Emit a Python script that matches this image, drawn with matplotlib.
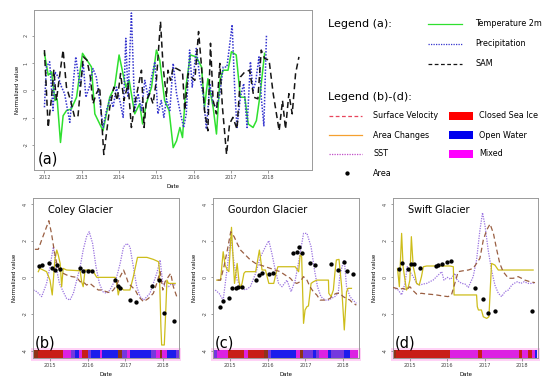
import numpy as np
import matplotlib.pyplot as plt
from matplotlib.patches import Rectangle

plt.rcParams['font.family'] = 'DejaVu Sans'
plt.rcParams['axes.unicode_minus'] = False

# ---------------- panel (a): climate series (year, normalized value) ----------------
temp2m = [(2012.00, 1.36), (2012.10, 0.56), (2012.19, 0.68), (2012.28, -0.37), (2012.34, -0.31),
          (2012.43, -1.91), (2012.50, -0.93), (2012.59, -0.74), (2012.72, -0.68), (2012.86, -0.25),
          (2013.02, 1.36), (2013.14, 1.11), (2013.26, 0.86), (2013.35, -0.86), (2013.57, -1.48),
          (2013.75, -0.25), (2013.88, 0.12), (2014.00, 1.30), (2014.18, 0.12), (2014.27, 0.37),
          (2014.42, -0.86), (2014.55, -0.49), (2014.63, -1.23), (2014.73, -0.49), (2014.87, 0.12),
          (2015.00, 1.48), (2015.09, 1.11), (2015.22, -0.37), (2015.34, -0.74), (2015.45, -2.10),
          (2015.54, -1.85), (2015.63, -1.36), (2015.70, -1.73), (2015.79, 0.12), (2015.91, 1.30),
          (2016.07, 1.23), (2016.21, 0.86), (2016.29, -0.62), (2016.38, 0.43), (2016.52, -0.62),
          (2016.61, -1.60), (2016.70, 0.37), (2016.79, 0.74), (2016.92, 0.74), (2017.01, 1.42),
          (2017.14, 1.30), (2017.25, -0.25), (2017.37, -0.25), (2017.46, -1.23), (2017.59, -1.36),
          (2017.68, -1.11), (2017.77, -0.25), (2017.90, 1.36)]

precip = [(2012.00, -0.62), (2012.05, 0.86), (2012.14, 1.05), (2012.23, -0.74), (2012.28, 0.68),
          (2012.37, 0.49), (2012.46, 0.12), (2012.54, -0.12), (2012.68, -1.17), (2012.77, 0.25),
          (2012.84, 1.23), (2012.95, 0.12), (2013.04, 0.99), (2013.11, -0.25), (2013.20, 0.12),
          (2013.30, 0.80), (2013.39, 0.49), (2013.48, -0.37), (2013.57, -1.36), (2013.66, -0.74),
          (2013.77, -0.25), (2013.84, -0.62), (2013.93, 0.12), (2014.02, -0.37), (2014.11, -0.99),
          (2014.18, 1.91), (2014.24, -0.25), (2014.33, 2.84), (2014.42, -0.74), (2014.51, -0.12),
          (2014.60, -0.74), (2014.69, 0.37), (2014.78, -0.25), (2014.87, 0.49), (2014.96, 1.05),
          (2015.04, -0.86), (2015.13, -0.37), (2015.20, -0.99), (2015.27, -0.31), (2015.36, -0.74),
          (2015.45, 0.99), (2015.54, -0.12), (2015.63, -0.74), (2015.73, -1.36), (2015.80, -0.86),
          (2015.89, 1.48), (2015.96, 0.12), (2016.07, 1.54), (2016.16, 0.49), (2016.25, -0.12),
          (2016.34, -1.42), (2016.43, 0.25), (2016.52, -0.49), (2016.61, -0.62), (2016.70, -0.12),
          (2016.79, 0.86), (2016.89, 0.86), (2017.03, 2.41), (2017.10, 0.00), (2017.16, -1.36),
          (2017.25, -0.25), (2017.34, 0.25), (2017.43, -1.36), (2017.52, 1.05), (2017.59, 0.00),
          (2017.66, 0.31), (2017.75, 1.23), (2017.81, -0.25), (2017.88, -1.30), (2017.95, 2.04)]

sam = [(2012.00, 1.48), (2012.10, -1.36), (2012.19, -0.25), (2012.25, 0.74), (2012.32, -0.37),
       (2012.39, 0.37), (2012.50, 1.48), (2012.59, 0.12), (2012.70, -0.37), (2012.81, -0.99),
       (2012.90, -0.93), (2013.04, 1.23), (2013.14, 1.11), (2013.23, 0.49), (2013.30, -0.49),
       (2013.39, -0.12), (2013.48, 0.12), (2013.59, -2.35), (2013.66, -1.60), (2013.75, -0.62),
       (2013.86, 0.12), (2013.95, -0.37), (2014.04, 0.62), (2014.13, -0.37), (2014.24, 0.25),
       (2014.33, -1.36), (2014.42, -0.49), (2014.51, 0.12), (2014.60, 0.74), (2014.67, -1.36),
       (2014.73, -0.37), (2014.82, -0.12), (2014.91, -0.49), (2015.00, 0.37), (2015.11, 2.53),
       (2015.18, 0.86), (2015.27, -0.25), (2015.31, 0.74), (2015.38, 0.37), (2015.45, 0.86),
       (2015.54, 0.80), (2015.70, 0.68), (2015.76, -0.74), (2015.85, 0.62), (2015.94, 0.49),
       (2016.03, 0.37), (2016.13, 2.16), (2016.21, 0.86), (2016.29, -0.74), (2016.38, -1.48),
       (2016.45, 1.73), (2016.52, -0.37), (2016.61, -0.86), (2016.70, 0.99), (2016.77, -0.62),
       (2016.88, -2.35), (2016.96, -1.23), (2017.05, -0.99), (2017.16, -1.42), (2017.25, 0.49),
       (2017.37, 0.68), (2017.50, 0.74), (2017.61, -0.25), (2017.72, -0.31), (2017.81, 1.48),
       (2017.90, 1.17), (2018.02, 1.11), (2018.13, -0.12), (2018.29, -1.48), (2018.38, -0.37),
       (2018.46, -1.42), (2018.55, -0.12), (2018.64, -0.86), (2018.73, 0.62), (2018.82, 1.23)]

# ---------------- panels (b)-(d): glaciers ----------------
coley_vel = [(2014.60, 1.53), (2014.69, 1.53), (2014.78, 2.04), (2014.91, 2.76), (2014.97, 3.09),
             (2015.04, 2.40), (2015.11, 1.49), (2015.18, 0.76), (2015.27, 0.31), (2015.35, 0.22),
             (2015.44, 0.13), (2015.58, 0.04), (2015.71, 0.00), (2015.80, -0.24), (2015.88, -0.24),
             (2015.97, -0.42), (2016.06, -0.33), (2016.19, -0.55), (2016.28, -0.69), (2016.37, -0.69),
             (2016.49, -0.78), (2016.59, -0.84), (2016.68, -0.69), (2016.77, -0.42), (2016.86, 0.04),
             (2016.95, 0.40), (2017.02, 0.04), (2017.08, -0.33), (2017.17, -0.51), (2017.26, -0.69),
             (2017.35, -1.05), (2017.48, -1.33), (2017.61, -1.15), (2017.74, -0.87), (2017.83, -0.33),
             (2017.92, 0.31), (2017.99, -0.69), (2018.05, -0.24), (2018.14, 0.04), (2018.20, 0.22),
             (2018.27, -0.51), (2018.36, -1.05)]
coley_sst = [(2014.56, -0.69), (2014.65, -0.78), (2014.78, -1.05), (2014.91, -0.33), (2015.00, 0.58),
             (2015.09, 1.67), (2015.16, 0.58), (2015.25, -0.33), (2015.35, -0.78), (2015.44, -1.15),
             (2015.53, -1.24), (2015.62, -0.87), (2015.71, -0.15), (2015.80, 0.58), (2015.88, 1.49),
             (2015.97, 2.22), (2016.04, 2.49), (2016.13, 1.85), (2016.22, 0.58), (2016.31, -0.33),
             (2016.40, -0.78), (2016.50, -0.87), (2016.59, -0.69), (2016.68, -0.33), (2016.77, 0.04),
             (2016.86, 0.76), (2016.95, 1.67), (2017.04, 1.85), (2017.12, 1.67), (2017.21, 0.58),
             (2017.30, -0.51), (2017.39, -1.05), (2017.48, -1.24), (2017.57, -1.05), (2017.65, -0.87),
             (2017.74, -0.33), (2017.83, 0.22), (2017.92, 0.95), (2017.99, -0.33), (2018.05, -0.51),
             (2018.14, -0.51), (2018.23, -0.33), (2018.32, -0.42)]
coley_area_chg = [(2014.69, 0.31), (2014.73, 0.49), (2014.82, 0.40), (2014.91, 0.31), (2015.00, -0.15),
                  (2015.06, -0.96), (2015.13, 0.95), (2015.18, 1.49), (2015.22, 1.22), (2015.27, 0.76),
                  (2015.31, -0.51), (2015.35, 0.49), (2015.44, 0.40), (2015.80, 0.36), (2015.84, -0.24),
                  (2015.88, -0.51), (2015.93, 0.40), (2016.06, 0.40), (2016.15, 0.31), (2016.24, 0.00),
                  (2016.73, 0.00), (2016.77, -0.33), (2016.81, -0.96), (2016.86, -0.51), (2016.95, -0.69),
                  (2017.12, -0.69), (2017.21, 0.04), (2017.32, 1.09), (2017.57, 1.09), (2017.74, 0.98),
                  (2017.88, 0.85), (2017.90, 0.40), (2017.94, -2.69), (2017.96, -3.69), (2018.03, -3.69),
                  (2018.07, -1.78), (2018.10, -0.15), (2018.14, -0.33), (2018.32, -0.33)]
coley_area = [(2014.71, 0.62), (2014.80, 0.67), (2014.97, 0.76), (2015.06, 0.49), (2015.12, 0.40),
              (2015.18, 0.67), (2015.27, 0.45), (2015.80, 0.53), (2015.87, 0.35), (2016.02, 0.35),
              (2016.11, 0.35), (2016.73, -0.15), (2016.79, -0.45), (2016.86, -0.56), (2017.12, -1.24),
              (2017.28, -1.33), (2017.70, -0.45), (2017.88, -0.15), (2018.03, -1.96), (2018.29, -2.38)]
coley_ice_edges = [2014.56, 2014.69, 2015.35, 2015.57, 2015.66, 2015.78, 2015.84, 2016.01, 2016.10,
                   2016.32, 2016.39, 2016.81, 2016.90, 2017.03, 2017.12, 2017.69, 2017.82, 2017.91,
                   2017.98, 2018.09, 2018.35, 2018.42]
coley_ice = ['closed-dark', 'closed', 'mixed', 'open-mixed', 'open', 'mixed', 'closed', 'open-mixed',
             'open', 'mixed', 'open', 'closed-dark', 'open-mixed', 'mixed', 'open', 'open-mixed',
             'mixed', 'closed-dark', 'mixed', 'open', 'open-mixed']

gourdon_vel = [(2014.67, -0.15), (2014.75, -0.15), (2014.84, 0.58), (2014.93, 1.49), (2015.02, 2.49),
               (2015.11, 2.22), (2015.19, 1.85), (2015.28, 1.49), (2015.41, 1.22), (2015.54, 0.95),
               (2015.68, 0.76), (2015.81, 0.67), (2015.94, 0.58), (2016.07, 0.49), (2016.20, 0.40),
               (2016.33, 0.31), (2016.46, 0.13), (2016.60, -0.05), (2016.68, -0.24), (2016.77, -0.33),
               (2016.86, -0.24), (2016.95, 0.04), (2017.04, -0.15), (2017.12, -0.51), (2017.21, -0.78),
               (2017.30, -0.96), (2017.39, -1.24), (2017.47, -1.24), (2017.56, -1.24), (2017.65, -1.15),
               (2017.74, -0.96), (2017.82, -0.87), (2017.91, -0.87), (2018.00, -1.05), (2018.09, -1.15),
               (2018.18, -1.24), (2018.26, -1.42), (2018.35, -1.51)]
gourdon_sst = [(2014.61, -0.69), (2014.71, -0.87), (2014.82, -1.24), (2014.93, 0.58), (2015.02, 2.22),
               (2015.11, 0.76), (2015.19, -0.15), (2015.28, -0.51), (2015.41, -0.69), (2015.54, -0.51),
               (2015.68, 0.22), (2015.81, 1.13), (2015.94, 1.67), (2016.03, 2.00), (2016.11, 1.31),
               (2016.20, 0.40), (2016.29, -0.33), (2016.38, -0.51), (2016.51, -0.15), (2016.62, -0.78),
               (2016.73, -0.15), (2016.83, 0.95), (2016.95, 2.40), (2017.04, 2.40), (2017.15, 1.67),
               (2017.24, 0.40), (2017.32, -0.51), (2017.41, -1.05), (2017.52, -1.24), (2017.61, -1.24),
               (2017.69, -1.15), (2017.78, -1.05), (2017.87, -0.87), (2017.91, 0.04), (2017.97, 0.58),
               (2018.03, 0.95), (2018.09, -0.51), (2018.18, -1.05), (2018.26, -1.24), (2018.35, -1.42)]
gourdon_area_chg = [(2014.65, -0.15), (2014.75, -0.15), (2014.82, 1.40), (2014.87, 0.67), (2014.93, 0.40),
                    (2014.97, 0.31), (2015.04, 2.73), (2015.08, 1.13), (2015.12, -0.33), (2015.15, 0.13),
                    (2015.19, 0.76), (2015.24, -0.24), (2015.28, -0.60), (2015.32, -0.33), (2015.37, 0.22),
                    (2015.41, 0.31), (2015.68, 0.31), (2015.78, 1.49), (2015.85, 0.40), (2015.94, 0.40),
                    (2016.03, -0.33), (2016.16, -0.33), (2016.22, 0.22), (2016.27, 0.58), (2016.73, 0.58),
                    (2016.82, 0.31), (2016.86, 1.22), (2016.90, 1.13), (2016.95, -2.51), (2016.99, -1.78),
                    (2017.04, -1.60), (2017.08, -1.56), (2017.15, -0.33), (2017.21, -0.24), (2017.30, -0.15),
                    (2017.61, -0.15), (2017.62, -0.87), (2017.68, -1.05), (2017.74, -0.69), (2017.78, 0.22),
                    (2017.82, 0.95), (2017.89, 0.98), (2017.96, -0.51), (2018.03, -2.87), (2018.09, -0.78),
                    (2018.13, -0.60), (2018.22, -0.60)]
gourdon_area = [(2014.73, -1.60), (2014.82, -1.29), (2014.97, -1.11), (2015.06, -0.60), (2015.15, -0.60),
                (2015.22, -0.51), (2015.31, -0.55), (2015.70, -0.15), (2015.78, 0.13), (2015.85, 0.25),
                (2016.04, 0.18), (2016.13, 0.25), (2016.67, 1.35), (2016.77, 1.40), (2016.84, 1.67),
                (2016.90, 1.31), (2017.12, 0.80), (2017.25, 0.65), (2017.69, 0.71), (2017.87, 0.38),
                (2018.03, 0.82), (2018.11, 0.33), (2018.26, 0.16)]
gourdon_ice_edges = [2014.55, 2014.66, 2014.94, 2015.36, 2015.49, 2015.91, 2016.02, 2016.08, 2016.75,
                     2016.86, 2016.93, 2017.19, 2017.28, 2017.36, 2017.60, 2017.69, 2018.01, 2018.19,
                     2018.40]
gourdon_ice = ['open-mixed', 'mixed', 'closed', 'mixed', 'closed', 'closed-dark', 'open-mixed', 'open',
               'mixed', 'closed-dark', 'open-mixed', 'open', 'open-mixed', 'mixed', 'open', 'open-mixed',
               'open', 'mixed']

swift_vel = [(2014.55, -0.55), (2014.64, -0.60), (2014.73, -0.65), (2014.82, -0.60), (2014.91, -0.69),
             (2015.00, -0.51), (2015.09, -0.73), (2015.18, -0.91), (2015.31, -0.87), (2015.45, -0.91),
             (2015.58, -0.93), (2015.71, -0.96), (2015.89, -1.02), (2016.02, -1.05), (2016.11, -0.96),
             (2016.20, -0.33), (2016.29, 0.31), (2016.42, 0.36), (2016.56, 0.40), (2016.69, 0.49),
             (2016.78, 0.76), (2016.87, 1.04), (2016.96, 2.04), (2017.05, 2.58), (2017.14, 2.91),
             (2017.23, 2.40), (2017.32, 1.49), (2017.40, 0.76), (2017.49, 0.31), (2017.63, -0.05),
             (2017.76, -0.05), (2017.89, 0.04), (2017.98, -0.05), (2018.07, -0.15), (2018.21, -0.24),
             (2018.34, -0.29)]
swift_sst = [(2014.55, -0.55), (2014.69, -0.69), (2014.78, -0.96), (2014.87, -0.33), (2014.93, 0.58),
             (2015.00, 0.31), (2015.09, 0.04), (2015.18, -0.33), (2015.27, -0.42), (2015.36, -0.36),
             (2015.45, -0.33), (2015.53, -0.24), (2015.62, -0.15), (2015.76, 0.13), (2015.85, 0.31),
             (2015.91, -0.15), (2016.00, 0.00), (2016.09, -0.11), (2016.20, 0.22), (2016.26, -0.15),
             (2016.38, -0.33), (2016.47, -0.36), (2016.56, -0.55), (2016.69, 0.04), (2016.78, 0.95),
             (2016.87, 2.58), (2016.94, 3.53), (2017.01, 2.76), (2017.09, 1.49), (2017.18, 0.40),
             (2017.27, -0.42), (2017.36, -0.87), (2017.45, -1.05), (2017.54, -0.78), (2017.63, -0.69),
             (2017.72, -0.42), (2017.78, -0.33), (2017.87, -0.24), (2017.96, -0.33), (2018.05, -0.24),
             (2018.16, -0.33), (2018.25, -0.33), (2018.34, -0.29)]
swift_area_chg = [(2014.67, 0.49), (2014.72, -0.51), (2014.78, 2.40), (2014.82, 0.58), (2014.87, -0.15),
                  (2014.91, -0.69), (2014.96, -0.51), (2015.00, -0.15), (2015.04, 2.22), (2015.09, 0.58),
                  (2015.13, 0.22), (2015.18, -0.33), (2015.25, -0.42), (2015.31, 0.04), (2015.36, 0.58),
                  (2015.45, 0.62), (2016.07, 0.62), (2016.16, 0.58), (2016.18, -0.96), (2016.78, -0.96),
                  (2016.80, -1.60), (2016.83, -1.78), (2016.91, -1.78), (2016.96, -2.15), (2017.05, -2.24),
                  (2017.11, -2.15), (2017.18, 0.76), (2017.27, 0.67), (2017.36, 0.40), (2018.29, 0.40)]
swift_area = [(2014.71, 0.45), (2014.78, 0.76), (2014.94, 0.44), (2015.02, 0.71), (2015.12, 0.71),
              (2015.27, 0.49), (2015.69, 0.64), (2015.76, 0.65), (2015.85, 0.71), (2016.00, 0.82),
              (2016.11, 0.91), (2016.74, -0.56), (2016.94, -1.18), (2017.09, -1.96), (2017.27, -1.82),
              (2018.27, -1.84)]
swift_ice_edges = [2014.54, 2014.62, 2016.08, 2016.81, 2016.92, 2017.91, 2018.00, 2018.16, 2018.26,
                   2018.33, 2018.40]
swift_ice = ['closed-dark', 'closed', 'mixed', 'closed', 'mixed', 'closed', 'mixed', 'closed', 'mixed', 'open']

glaciers = [('Coley Glacier', '(b)', coley_vel, coley_sst, coley_area_chg, coley_area, coley_ice_edges, coley_ice),
            ('Gourdon Glacier', '(c)', gourdon_vel, gourdon_sst, gourdon_area_chg, gourdon_area, gourdon_ice_edges, gourdon_ice),
            ('Swift Glacier', '(d)', swift_vel, swift_sst, swift_area_chg, swift_area, swift_ice_edges, swift_ice)]

ice_colors = {'closed': '#c81e18', 'closed-dark': '#8e3418', 'open': '#1c1cec',
              'mixed': '#dc22e2', 'open-mixed': '#7438de'}

FRAME = '#9a9a9a'


def style_axes(ax):
    for s in ax.spines.values():
        s.set_color(FRAME)
        s.set_linewidth(0.7)
    ax.tick_params(length=1.8, width=0.5, color='#777777', labelsize=3.5, labelcolor='#444444', pad=2)
    for lab in ax.get_yticklabels():
        lab.set_rotation(90)
        lab.set_va('center')


fig = plt.figure(figsize=(5.5, 3.82), dpi=100)

# ---- (a)
ax = fig.add_axes([34 / 550, 1 - 170 / 382, 278 / 550, 160 / 382])
t, v = zip(*temp2m)
ax.plot(t, v, color='#2fe02f', lw=1.1)
t, v = zip(*precip)
ax.plot(t, v, color='#3535cf', lw=1.1, ls=(0, (1, 1)))
t, v = zip(*sam)
ax.plot(t, v, color='#151515', lw=1.1, ls=(0, (4, 2.5)))
ax.set_xlim(2011.72, 2019.17)
ax.set_ylim(-2.92, 2.95)
ax.set_xticks(range(2012, 2019))
ax.set_yticks([-2, -1, 0, 1, 2])
style_axes(ax)
ax.set_xlabel('Date', fontsize=3.9, labelpad=3)
ax.set_ylabel('Normalized value', fontsize=4, labelpad=3)
ax.text(0.015, 0.07, '(a)', transform=ax.transAxes, fontsize=10.5, va='center', ha='left')

# ---- (b)-(d)
lefts = [33, 213, 393]
widths = [146, 146, 145]
for (name, tag, vel, sst, chg, area, edges, ice), lx, w in zip(glaciers, lefts, widths):
    ax = fig.add_axes([lx / 550, 1 - 358 / 382, w / 550, 160 / 382])
    ax.set_xlim(2014.55, 2018.42)
    ax.set_ylim(-4.4, 4.33)
    # light halo behind the sea ice band
    ax.add_patch(Rectangle((2014.50, -4.55), 3.97, 0.68, color='#ffd2f6', lw=0, clip_on=False, zorder=0))
    segs = [(a, b - a) for a, b in zip(edges[:-1], edges[1:])]
    ax.broken_barh(segs, (-4.38, 0.42), facecolors=[ice_colors[k] for k in ice], zorder=1)
    t, v = zip(*sst)
    ax.plot(t, v, color='#9a72e0', lw=0.9, ls=(0, (1, 1)), zorder=2)
    t, v = zip(*chg)
    ax.plot(t, v, color='#cdbd1a', lw=0.9, zorder=3)
    t, v = zip(*vel)
    ax.plot(t, v, color='#9a5f42', lw=0.9, ls=(0, (4, 2.5)), zorder=4)
    t, v = zip(*area)
    ax.plot(t, v, 'o', color='black', ms=2.1, zorder=5)
    ax.set_xticks([2015, 2016, 2017, 2018])
    ax.set_yticks([-4, -2, 0, 2, 4])
    style_axes(ax)
    ax.set_xlabel('Date', fontsize=3.9, labelpad=3)
    ax.set_ylabel('Normalized value', fontsize=4, labelpad=4)
    ax.text(0.10, 0.922, name, transform=ax.transAxes, fontsize=7, va='center', ha='left')
    ax.text(0.01, 0.095, tag, transform=ax.transAxes, fontsize=10.5, va='center', ha='left', zorder=6)

# ---- legends, placed in figure pixels
lg = fig.add_axes([0, 0, 1, 1], zorder=-1)
lg.set_xlim(0, 550)
lg.set_ylim(382, 0)
lg.axis('off')

lg.text(328, 24, 'Legend (a):', fontsize=8, va='center')
leg_a = [('Temperature 2m', '#2fe02f', '-'), ('Precipitation', '#3535cf', (0, (1, 1))),
         ('SAM', '#151515', (0, (3, 2)))]
for i, (lab, col, ls) in enumerate(leg_a):
    y = 24 + 20 * i
    lg.plot([428, 462], [y, y], color=col, lw=0.9, ls=ls)
    lg.text(475, y, lab, fontsize=5.8, va='center')

lg.text(328, 97, 'Legend (b)-(d):', fontsize=8, va='center')
leg_b = [('Surface Velocity', '#e8455c', (0, (3, 2))), ('Area Changes', '#f5a030', '-'),
         ('SST', '#c14fc8', (0, (1, 1)))]
for i, (lab, col, ls) in enumerate(leg_b):
    y = 116 + 19 * i
    lg.plot([329, 362], [y, y], color=col, lw=0.9, ls=ls)
    lg.text(373, y, lab, fontsize=5.8, va='center')
lg.plot([347], [173], 'o', color='black', ms=2.1)
lg.text(373, 173, 'Area', fontsize=5.8, va='center')

leg_ice = [('Closed Sea Ice', '#ff0000'), ('Open Water', '#0000ee'), ('Mixed', '#ff00ff')]
for i, (lab, col) in enumerate(leg_ice):
    y = 116 + 19 * i
    lg.add_patch(Rectangle((449, y - 4), 24, 8, color=col, lw=0))
    lg.text(479, y, lab, fontsize=5.8, va='center')

fig.savefig('out.png', dpi=100)
